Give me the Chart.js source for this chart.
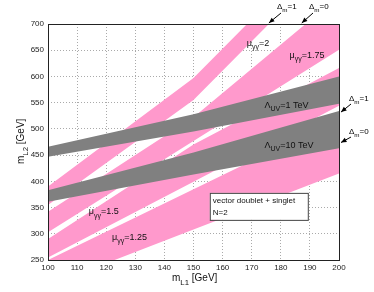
<!DOCTYPE html>
<html>
<head>
<meta charset="utf-8">
<script src="https://cdn.jsdelivr.net/npm/chart.js@4"></script>
<style>
  html, body { margin: 0; background: #fff; }
  #wrap { width: 374px; height: 292px; }
</style>
</head>
<body>
<div id="wrap"><canvas id="c"></canvas></div>
<script>
// band edges as [m_L1, m_L2] points (GeV)
const mu2Hi = [[100, 390], [150, 597], [168.4, 700]];
const mu2Lo = [[100, 355], [150, 555], [175.9, 700]];
const mu175Hi = [[100, 342], [150, 522], [188.5, 700], [200, 752]];
const mu175Lo = [[100, 303], [150, 477], [200, 651]];
const mu15Hi = [[100, 290], [150, 470], [200, 616]];
const mu15Lo = [[100, 255], [150, 399], [200, 544]];
const mu125Hi = [[100, 250], [150, 385], [200, 520]];
const mu125Lo = [[100, 201], [150, 308], [200, 415]];
const uv1Hi = [[100, 466], [150, 528], [200, 600]];
const uv1Lo = [[100, 447], [150, 495], [200, 548]];
const uv10Hi = [[100, 383], [150, 455], [200, 534]];
const uv10Lo = [[100, 361], [150, 413], [200, 463]];

const xTicks = [100, 110, 120, 130, 140, 150, 160, 170, 180, 190, 200];
const yTicks = [250, 300, 350, 400, 450, 500, 550, 600, 650, 700];

const pink = '#ff99cc';
const grey = '#808080';
const font = '"Liberation Sans", Arial, sans-serif';

function band(label, hi, lo, color, order) {
    const pts = hi.concat(lo.slice().reverse());
    pts.push(hi[0]);
    return {
        label: label,
        data: pts.map(p => ({x: p[0], y: p[1]})),
        backgroundColor: color,
        borderWidth: 0,
        pointRadius: 0,
        fill: 'shape',
        tension: 0,
        order: order
    };
}

// text pieces: [text, sub?]
function rich(ctx, x, y, parts, size) {
    let cx = x;
    for (const [t, sub] of parts) {
        const s = sub ? size * 0.78 : size;
        ctx.font = s + 'px ' + font;
        ctx.fillText(t, cx, sub ? y + size * 0.38 : y);
        cx += ctx.measureText(t).width;
    }
}

function arrow(ctx, x0, y0, x1, y1) {
    ctx.beginPath();
    ctx.moveTo(x0, y0);
    ctx.lineTo(x1, y1);
    ctx.stroke();
    const a = Math.atan2(y1 - y0, x1 - x0);
    ctx.beginPath();
    ctx.moveTo(x1, y1);
    ctx.lineTo(x1 - 6 * Math.cos(a - 0.4), y1 - 6 * Math.sin(a - 0.4));
    ctx.lineTo(x1 - 6 * Math.cos(a + 0.4), y1 - 6 * Math.sin(a + 0.4));
    ctx.closePath();
    ctx.fill();
}

const labels = [
    {x: 168.3, y: 659, parts: [['μ'], ['γγ', 1], ['=2']]},
    {x: 183, y: 636, parts: [['μ'], ['γγ', 1], ['=1.75']]},
    {x: 174.4, y: 540, parts: [['Λ'], ['UV', 1], ['=1 TeV']]},
    {x: 174.4, y: 464, parts: [['Λ'], ['UV', 1], ['=10 TeV']]},
    {x: 114, y: 337, parts: [['μ'], ['γγ', 1], ['=1.5']]},
    {x: 122, y: 289, parts: [['μ'], ['γγ', 1], ['=1.25']]}
];

const annot = {
    id: 'annot',
    afterDraw(chart) {
        const {ctx, chartArea: a, scales: {x, y}} = chart;
        ctx.save();
        ctx.strokeStyle = '#222';
        ctx.lineWidth = 1;
        ctx.strokeRect(a.left + 0.5, a.top + 0.5, a.right - a.left, a.bottom - a.top);

        ctx.fillStyle = '#111';
        ctx.textBaseline = 'alphabetic';
        for (const l of labels) {
            rich(ctx, x.getPixelForValue(l.x), y.getPixelForValue(l.y), l.parts, 9);
        }

        // Delta_m markers
        ctx.strokeStyle = '#000';
        ctx.fillStyle = '#000';
        rich(ctx, 277, 9, [['Δ'], ['m', 1], ['=1']], 8);
        rich(ctx, 309, 9, [['Δ'], ['m', 1], ['=0']], 8);
        rich(ctx, 349, 101, [['Δ'], ['m', 1], ['=1']], 8);
        rich(ctx, 349, 134, [['Δ'], ['m', 1], ['=0']], 8);
        arrow(ctx, 281, 13, x.getPixelForValue(175.9), y.getPixelForValue(700) - 1);
        arrow(ctx, 313, 13, x.getPixelForValue(187.2), y.getPixelForValue(700) - 1);
        arrow(ctx, 351, 104, x.getPixelForValue(200) + 2, y.getPixelForValue(532));
        arrow(ctx, 351, 137, x.getPixelForValue(200) + 2, y.getPixelForValue(474));

        // info box
        const bx = x.getPixelForValue(155.6), by = y.getPixelForValue(378);
        ctx.fillStyle = '#fff';
        ctx.fillRect(bx, by, 98, 27);
        ctx.strokeStyle = '#444';
        ctx.strokeRect(bx + 0.5, by + 0.5, 98, 27);
        ctx.fillStyle = '#111';
        ctx.font = '8px ' + font;
        ctx.fillText('vector doublet + singlet', bx + 3, by + 10);
        ctx.fillText('N=2', bx + 3, by + 22);

        // axis titles
        rich(ctx, 172, 281, [['m'], ['L1', 1], [' [GeV]']], 10);
        ctx.translate(24, 164);
        ctx.rotate(-Math.PI / 2);
        rich(ctx, 0, 0, [['m'], ['L2', 1], [' [GeV]']], 10);
        ctx.restore();
    }
};

new Chart(document.getElementById('c'), {
    type: 'line',
    data: {
        datasets: [
            band('Λ_UV=1 TeV', uv1Hi, uv1Lo, grey, 0),
            band('Λ_UV=10 TeV', uv10Hi, uv10Lo, grey, 0),
            band('μγγ=2', mu2Hi, mu2Lo, pink, 1),
            band('μγγ=1.75', mu175Hi, mu175Lo, pink, 1),
            band('μγγ=1.5', mu15Hi, mu15Lo, pink, 1),
            band('μγγ=1.25', mu125Hi, mu125Lo, pink, 1)
        ]
    },
    options: {
        responsive: true,
        maintainAspectRatio: false,
        animation: false,
        layout: {padding: {top: 24, right: 35, left: 0, bottom: 0}},
        plugins: {legend: {display: false}, tooltip: {enabled: false}},
        scales: {
            x: {
                type: 'linear', min: 100, max: 200,
                afterBuildTicks: s => { s.ticks = xTicks.map(v => ({value: v})); },
                afterFit: s => { s.height = 32; },
                ticks: {color: '#222', font: {size: 8, family: font}, padding: 3, maxRotation: 0},
                grid: {color: '#aaa', drawTicks: false},
                border: {display: false, dash: [1, 2]}
            },
            y: {
                type: 'linear', min: 250, max: 700,
                afterBuildTicks: s => { s.ticks = yTicks.map(v => ({value: v})); },
                afterFit: s => { s.width = 48; },
                ticks: {color: '#222', font: {size: 8, family: font}, padding: 4},
                grid: {color: '#aaa', drawTicks: false},
                border: {display: false, dash: [1, 2]}
            }
        }
    },
    plugins: [annot]
});
</script>
</body>
</html>
